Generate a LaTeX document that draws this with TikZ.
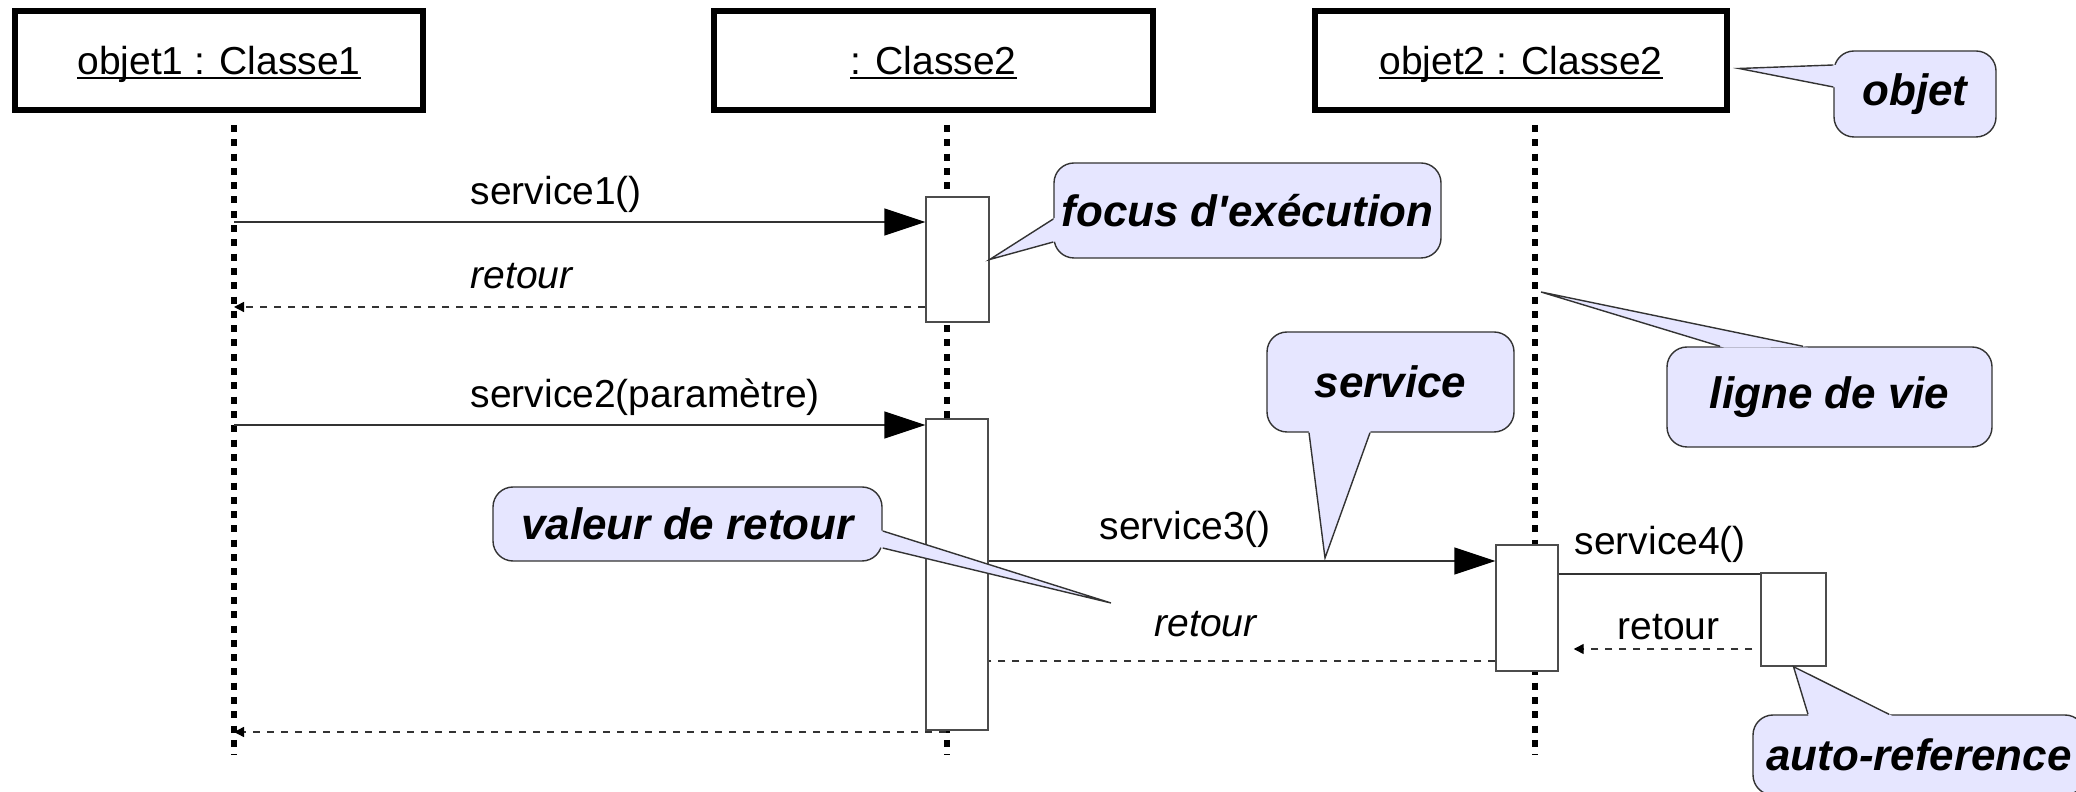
\documentclass[tikz,border=0pt]{standalone}
\usepackage{fontspec}
\setmainfont{Liberation Sans}[Ligatures=TeXOff]
\usetikzlibrary{arrows.meta,calc}

\definecolor{notefill}{RGB}{230,230,255}

% soulignement juste sous la ligne de base
\newsavebox{\soulbox}
\newcommand{\souligne}[1]{\sbox{\soulbox}{#1}%
  \rlap{\rule[-0.1em]{\wd\soulbox}{0.45pt}}\usebox{\soulbox}}

\tikzset{
  obj/.style={draw, line width=0.06cm, minimum height=0.99cm, inner sep=0pt,
    text depth=0pt, font=\fontsize{11.1}{13}\selectfont},
  lifeline/.style={line width=0.055cm, dash pattern=on 0.07cm off 0.073cm},
  act/.style={draw=black!70, fill=white, line width=0.4pt, inner sep=0pt},
  call/.style={draw=black!80, line width=0.4pt,
    -{Triangle[length=0.41cm,width=0.27cm,color=black]}},
  plain/.style={draw=black!80, line width=0.4pt},
  ret/.style={draw=black!80, line width=0.4pt, dash pattern=on 0.07cm off 0.07cm},
  retarr/.style={ret, -{Triangle[length=0.1cm,width=0.1cm,color=black]}},
  msg/.style={font=\fontsize{11.1}{13}\selectfont, inner sep=0pt, anchor=base west},
  msgit/.style={msg, font=\fontsize{11.1}{13}\selectfont\itshape},
  note/.style={draw=black!80, fill=notefill, line width=0.4pt, rounded corners=0.2cm,
    inner sep=0pt, font=\fontsize{12.5}{15}\selectfont\bfseries\itshape}
}

% pointe d'une bulle : base 1, base 2, pointe
\newcommand{\bulle}[3]{%
  \fill[notefill] ($(#1)!-0.05cm!(#3)$) -- (#3) -- ($(#2)!-0.05cm!(#3)$) -- cycle;
  \draw[draw=black!80, line width=0.4pt] (#1) -- (#3) -- (#2);}

\begin{document}
\begin{tikzpicture}
  \useasboundingbox (0,0) rectangle (20.76,-7.92);
  % objets
  \node[obj, minimum width=4.08cm] (h1) at (2.19,-0.605) {\souligne{objet1 : Classe1}};
  \node[obj, minimum width=4.39cm] (h2) at (9.335,-0.605) {\souligne{: Classe2}};
  \node[obj, minimum width=4.12cm] (h3) at (15.21,-0.605) {\souligne{objet2 : Classe2}};
  % lignes de vie
  \foreach \n/\x in {1/2.34, 2/9.47, 3/15.35}{
    \coordinate (bot\n) at (\x,-7.55);
    \draw[lifeline] ($(h\n.south -| bot\n)+(0,-0.12)$) -- (bot\n);
  }
  % activations
  \node[act, minimum width=0.63cm, minimum height=1.25cm] (a1) at (9.575,-2.595) {};
  \node[act, minimum width=0.62cm, minimum height=3.11cm] (a2) at (9.57,-5.745) {};
  \node[act, minimum width=0.62cm, minimum height=1.26cm] (a3) at (15.27,-6.08) {};
  \node[act, minimum width=0.65cm, minimum height=0.93cm] (a4) at (17.935,-6.195) {};
  % messages
  \coordinate (s1) at (2.34,-2.22);
  \coordinate (s2) at (2.34,-3.07);
  \coordinate (s3) at (2.34,-4.25);
  \coordinate (s4) at (9.47,-5.61);
  \coordinate (s5) at (9.47,-6.61);
  \coordinate (s6) at (15.35,-5.74);
  \coordinate (s7) at (15.35,-6.49);
  \coordinate (s8) at (9.46,-7.32);
  \draw[call] (s1) -- (s1 -| a1.west);
  \node[msg] (t1) at (4.70,-2.05) {service1()};
  \draw[retarr] (s2 -| a1.west) -- (s2);
  \node[msgit] (t2) at (4.70,-2.89) {retour};
  \draw[call] (s3) -- (s3 -| a2.west);
  \node[msg] (t3) at (4.70,-4.08) {service2(paramètre)};
  \draw[call] (s4 -| a2.east) -- (s4 -| a3.west);
  \node[msg] (t4) at (10.99,-5.40) {service3()};
  \draw[ret] (s5 -| a3.west) -- (s5 -| a2.east);
  \node[msgit] (t5) at (11.54,-6.37) {retour};
  \draw[plain] (s6 -| a3.east) -- (s6 -| a4.west);
  \node[msg] (t6) at (15.74,-5.55) {service4()};
  \draw[retarr] ($(s7 -| a4.west)+(-0.08,0)$) -- ($(s7 -| a3.east)+(0.15,0)$);
  \node[msg] (t7) at (16.17,-6.40) {retour};
  \draw[retarr] (s8) -- (s8 -| bot1);
  % bulles
  \node[note, minimum width=1.62cm, minimum height=0.86cm] (nobjet) at (19.15,-0.94) {objet};
  \coordinate (objetA) at ($(nobjet.west)+(0,0.29)$);
  \coordinate (objetB) at ($(nobjet.west)+(0,0.07)$);
  \coordinate (objetT) at ($(h3.east)+(0.09,-0.08)$);
  \bulle{objetA}{objetB}{objetT}
  \node[note, minimum width=3.87cm, minimum height=0.95cm] (nfocus) at (12.475,-2.105) {focus d'exécution};
  \coordinate (focusA) at ($(nfocus.west)+(0,-0.085)$);
  \coordinate (focusB) at ($(nfocus.west)+(0,-0.315)$);
  \bulle{focusA}{focusB}{a1.east}
  \node[note, minimum width=3.25cm, minimum height=1.0cm] (nvie) at (18.295,-3.97) {ligne de vie};
  \coordinate (vieA) at ($(nvie.north)+(-1.095,0)$);
  \coordinate (vieB) at ($(nvie.north)+(-0.265,0)$);
  \coordinate (vieT) at (15.41,-2.92);
  \bulle{vieA}{vieB}{vieT}
  \node[note, minimum width=2.47cm, minimum height=1.0cm] (nservice) at (13.905,-3.82) {service};
  \coordinate (serviceA) at ($(nservice.south)+(-0.815,0)$);
  \coordinate (serviceB) at ($(nservice.south)+(-0.205,0)$);
  \coordinate (serviceT) at (13.25,-5.58);
  \bulle{serviceA}{serviceB}{serviceT}
  \node[note, minimum width=3.89cm, minimum height=0.74cm] (nvaleur) at (6.875,-5.24) {valeur de retour};
  \coordinate (valeurA) at ($(nvaleur.east)+(0,-0.07)$);
  \coordinate (valeurB) at ($(nvaleur.east)+(0,-0.24)$);
  \coordinate (valeurT) at (11.11,-6.03);
  \bulle{valeurA}{valeurB}{valeurT}
  \node[note, minimum width=3.32cm, minimum height=0.80cm] (nauto) at (19.19,-7.55) {auto-reference};
  \coordinate (autoA) at ($(nauto.north)+(-1.11,0)$);
  \coordinate (autoB) at ($(nauto.north)+(-0.30,0)$);
  \bulle{autoA}{autoB}{a4.south}
\end{tikzpicture}
\end{document}
